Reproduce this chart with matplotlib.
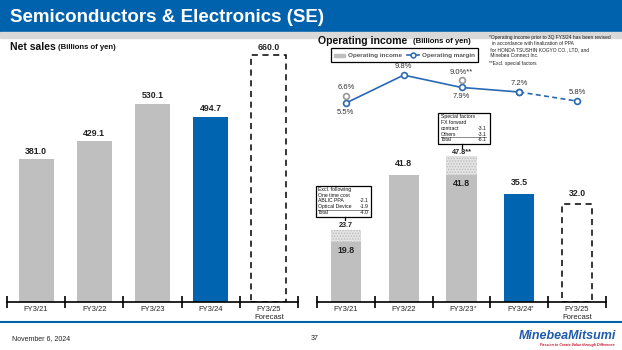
import matplotlib
matplotlib.use('Agg')
import matplotlib.pyplot as plt
from matplotlib.patches import Rectangle
from matplotlib.lines import Line2D

plt.rcParams['font.family'] = ['Liberation Sans', 'DejaVu Sans']
plt.rcParams['hatch.linewidth'] = 0.7

years = ['FY3/21', 'FY3/22', 'FY3/23', 'FY3/24', 'FY3/25']
net_sales = [381.0, 429.1, 530.1, 494.7, 660.0]
op_income = [19.8, 41.8, 41.8, 35.5, 32.0]
op_income_excl = [23.7, None, 47.8, None, None]
op_margin = [5.5, 9.8, 7.9, 7.2, 5.8]
op_margin_excl = [6.6, None, 9.0, None, None]
tick_labels = ['FY3/21', 'FY3/22', 'FY3/23', 'FY3/24', 'FY3/25\nForecast']
revised = [False, False, True, True, False]

GRAY = '#BFBFBF'
BLUE = '#0064B0'
LINE = '#2A68B4'
W, H = 622, 350

fig = plt.figure(figsize=(W / 100, H / 100), dpi=100)


def rect(x0, y0, x1, y1):
    return [x0 / W, 1 - y1 / H, (x1 - x0) / W, (y1 - y0) / H]


def style_axis(ax, labels):
    for s in ['top', 'left', 'right']:
        ax.spines[s].set_visible(False)
    ax.spines['bottom'].set_linewidth(1.2)
    ax.set_xlim(-0.5, 4.5)
    ax.set_yticks([])
    ax.set_xticks([i - 0.5 for i in range(6)])
    ax.set_xticklabels([])
    ax.tick_params(axis='x', which='major', direction='inout', length=8, width=1.2)
    ax.set_xticks(range(5), minor=True)
    ax.set_xticklabels(labels, minor=True, fontsize=5.5, color='#222222', linespacing=1.2, va='top')
    ax.tick_params(axis='x', which='minor', length=0, pad=3)
    ax.patch.set_alpha(0)


# ---- net sales
ax1 = fig.add_axes(rect(7, 40, 298, 302))
style_axis(ax1, tick_labels)
ax1.set_ylim(0, 700)
for i, v in enumerate(net_sales):
    if i < 3:
        ax1.bar(i, v, width=0.6, color=GRAY)
    elif i == 3:
        ax1.bar(i, v, width=0.6, color=BLUE)
    else:
        ax1.bar(i, v, width=0.6, facecolor='white', edgecolor='black', linestyle=(0, (4, 3)), linewidth=1.1)
    ax1.text(i, v + 9, f'{v:.1f}', ha='center', va='bottom', fontsize=6.3, fontweight='bold', color='#222222')

# ---- operating income
ax2 = fig.add_axes(rect(317, 40, 606, 302))
style_axis(ax2, tick_labels)
ax2.set_ylim(0, 262 / 3.05)
for i, v in enumerate(op_income):
    if i < 3:
        ax2.bar(i, v, width=0.52, color=GRAY)
    elif i == 3:
        ax2.bar(i, v, width=0.52, color=BLUE)
    else:
        ax2.bar(i, v, width=0.52, facecolor='white', edgecolor='black', linestyle=(0, (4, 3)), linewidth=1.1)
    ex = op_income_excl[i]
    if ex is not None:
        ax2.bar(i, ex - v, bottom=v, width=0.52, facecolor='#E4E4E4', edgecolor='#BBBBBB', hatch='......', linewidth=0)
        ax2.text(i, ex + 0.8, f'{ex:.1f}' + ('**' if i == 2 else ''), ha='center', va='baseline',
                 fontsize=5.2, fontweight='bold', color='#222222')
        ax2.text(i, v - 1.5, f'{v:.1f}', ha='center', va='top', fontsize=6.3, fontweight='bold', color='#222222')
    else:
        ax2.text(i, v + 2.2, f'{v:.1f}', ha='center', va='bottom', fontsize=6.3, fontweight='bold', color='#222222')
    if revised[i]:
        ax2.annotate('*', xy=(i, 0), xytext=(9.5, -2), textcoords='offset points', fontsize=4.5,
                     ha='center', va='top', color='#222222', annotation_clip=False)

# margin line
ax3 = ax2.twinx()
ax3.set_ylim(-25.1, 15.2)
ax3.axis('off')
ax3.plot(range(4), op_margin[:4], color=LINE, lw=1.2, marker='o', ms=4.2, mfc='white', mec=LINE, mew=1.2, zorder=3)
ax3.plot([3, 4], op_margin[3:], color=LINE, lw=1.2, ls=(0, (3, 2)), marker='o', ms=4.2, mfc='white',
         mec=LINE, mew=1.2, zorder=3)
for i, m in enumerate(op_margin_excl):
    if m is not None:
        ax3.plot(i, m, marker='o', ms=4.2, mfc='white', mec='#999999', mew=1.2, ls='none', zorder=3)
        ax3.text(i, m + 0.7, f'{m:.1f}%' + ('**' if i == 2 else ''), ha='center', va='bottom', fontsize=5.5, color='#333333')
        ax3.text(i, op_margin[i] - 0.9, f'{op_margin[i]:.1f}%', ha='center', va='top', fontsize=5.5, color='#333333')
    else:
        ax3.text(i, op_margin[i] + 0.8, f'{op_margin[i]:.1f}%', ha='center', va='bottom', fontsize=5.5, color='#333333')

# ---- page decorations in pixel coordinates
ov = fig.add_axes([0, 0, 1, 1])
ov.set_xlim(0, W)
ov.set_ylim(H, 0)
ov.axis('off')

ov.add_patch(Rectangle((0, 0), W, 32, color='#0062AD', zorder=0))
ov.add_patch(Rectangle((0, 32), W, 6, color='#D9D9D9', zorder=0))
ov.text(10, 17, 'Semiconductors & Electronics (SE)', color='white', fontsize=13.5, fontweight='bold', va='center')

ov.text(10, 47, 'Net sales', fontsize=7.5, fontweight='bold', va='center', color='#111111')
ov.text(58, 47.5, '(Billions of yen)', fontsize=5.6, fontweight='bold', va='center', color='#111111')
ov.text(318, 41, 'Operating income', fontsize=7.6, fontweight='bold', va='center', color='#111111')
ov.text(413, 41.5, '(Billions of yen)', fontsize=5.6, fontweight='bold', va='center', color='#111111')

notes = ['*Operating income prior to 3Q FY3/24 has been revised',
         '  in accordance with finalization of PPA',
         ' for HONDA TSUSHIN KOGYO CO., LTD, and',
         ' Minebea Connect Inc.']
for k, t in enumerate(notes):
    ov.text(489, 37 + k * 6.3, t, fontsize=3.5, va='center', color='#222222')
ov.text(489, 63, '**Excl. special factors', fontsize=3.5, va='center', color='#222222')

# legend
ov.add_patch(Rectangle((331, 48), 147, 14, facecolor='white', edgecolor='black', lw=0.9))
ov.add_patch(Rectangle((334, 54), 11, 2.5, color=GRAY))
ov.text(348, 55, 'Operating income', fontsize=4.6, fontweight='bold', va='center', color='#555555')
ov.add_line(Line2D([407, 419], [55, 55], color=LINE, lw=1.2))
ov.plot(413, 55, marker='o', ms=3.5, mfc='white', mec=LINE, mew=1.1)
ov.text(422, 55, 'Operating margin', fontsize=4.6, fontweight='bold', va='center', color='#555555')

# special factors box
ov.add_patch(Rectangle((438, 113), 52, 31, facecolor='white', edgecolor='black', lw=0.9))
sf = [('Special factors', ''), ('FX forward', ''), ('contract', '-3.1'), ('Others', '-3.1'), ('Total', '-6.1')]
ys = [116.5, 122.5, 128.5, 134, 139.5]
for (a, b), y in zip(sf, ys):
    ov.text(441, y, a, fontsize=3.7, va='center', color='#111111')
    if b:
        ov.text(487, y, b, fontsize=3.7, va='center', ha='right', color='#111111')
ov.add_line(Line2D([441, 486], [137, 137], color='#777777', lw=0.6))
ov.add_line(Line2D([462, 462], [144, 147.5], color='black', lw=0.9))

# one time cost box
ov.add_patch(Rectangle((316, 186), 55, 31, facecolor='white', edgecolor='black', lw=0.9))
oc = [('Excl. following', ''), ('One time cost', ''), ('ABLIC PPA', '-2.1'), ('Optical Device', '-1.9'), ('Total', '-4.0')]
ys = [189.5, 195.5, 201, 206.5, 212]
for (a, b), y in zip(oc, ys):
    ov.text(318, y, a, fontsize=3.7, va='center', color='#111111')
    if b:
        ov.text(369, y, b, fontsize=3.7, va='center', ha='right', color='#111111')
ov.add_line(Line2D([318, 368], [209.5, 209.5], color='#777777', lw=0.6))
ov.add_line(Line2D([345, 345], [217, 220], color='black', lw=0.9))

# footer
ov.add_line(Line2D([0, W], [322, 322], color='#0062AD', lw=1.5))
ov.text(12, 339, 'November 6, 2024', fontsize=5, va='center', color='#222222')
ov.text(311, 339, '37', fontsize=5, va='center', color='#222222')
ov.text(616, 336, 'MinebeaMitsumi', fontsize=9, fontweight='bold', style='italic', ha='right', va='center', color='#1F5BAA')
ov.text(615, 345, 'Passion to Create Value through Difference', fontsize=2.6, fontweight='bold', style='italic',
        ha='right', va='center', color='#C8102E')

fig.savefig('out.png', dpi=100)
